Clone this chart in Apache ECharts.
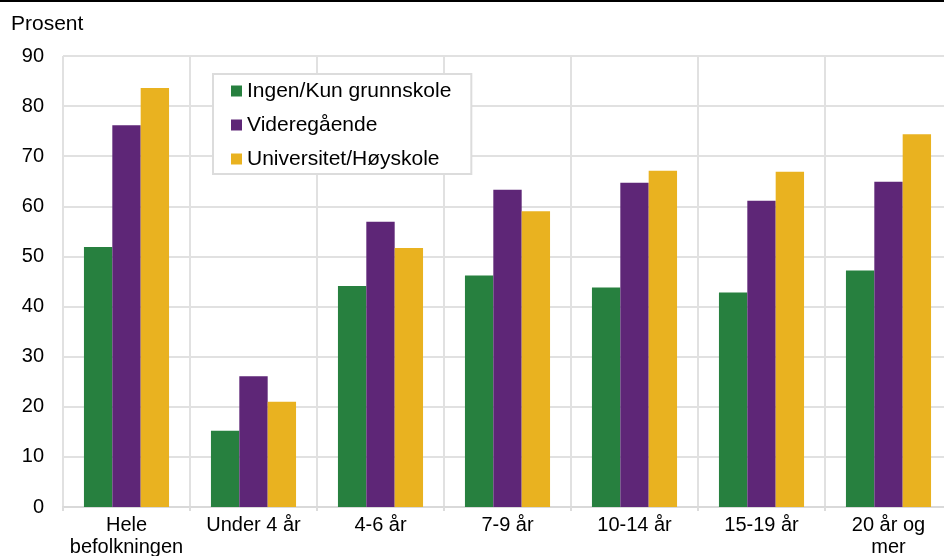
<!DOCTYPE html>
<html><head><meta charset="utf-8">
<script src="https://cdn.jsdelivr.net/npm/echarts@6/dist/echarts.min.js"></script>
<style>html,body{margin:0;padding:0;background:#fff}#c{width:944px;height:556px}</style>
</head><body><div id="c"></div>
<script>
const categories = ['Hele\nbefolkningen', 'Under 4 år', '4-6 år', '7-9 år', '10-14 år', '15-19 år', '20 år og\nmer'];
const seriesNames = ['Ingen/Kun grunnskole', 'Videregående', 'Universitet/Høyskole'];
const ingen = [51.9, 15.2, 44.1, 46.2, 43.8, 42.8, 47.2];
const videregaende = [76.2, 26.1, 56.9, 63.3, 64.7, 61.1, 64.9];
const universitet = [83.6, 21.0, 51.7, 59.0, 67.1, 66.9, 74.4];
const yTicks = [0, 10, 20, 30, 40, 50, 60, 70, 80, 90];
const colors = ['#27803f', '#5e2677', '#e9b220'];
const font = 'Liberation Sans, Arial, sans-serif';

const chart = echarts.init(document.getElementById('c'), null, {renderer: 'canvas'});
const data = [ingen, videregaende, universitet];
chart.setOption({
  animation: false,
  textStyle: {fontFamily: font},
  graphic: [
    {type: 'rect', left: 0, top: 0, shape: {width: 944, height: 2}, style: {fill: '#000'}},
    {type: 'text', left: 11, top: 14, style: {text: 'Prosent', font: '21px ' + font, fill: '#000'}}
  ],
  grid: {left: 63, width: 889, top: 56, bottom: 49, containLabel: false, outerBoundsMode: 'none'},
  legend: {
    orient: 'vertical', left: 213, top: 74,
    data: seriesNames,
    icon: 'rect', itemWidth: 11, itemHeight: 11, itemGap: 12,
    padding: [6, 20, 4, 18],
    borderColor: '#dcdcdc', borderWidth: 2,
    backgroundColor: '#fff',
    textStyle: {fontSize: 21, color: '#000', fontFamily: font, lineHeight: 22, padding: [0, 0, 0, 0]}
  },
  xAxis: {
    type: 'category', data: categories,
    axisLine: {show: true, lineStyle: {color: '#d9d9d9', width: 2}},
    axisTick: {show: true, length: 4, lineStyle: {color: '#dcdcdc', width: 2}},
    splitLine: {show: true, lineStyle: {color: '#e1e1e1', width: 2}},
    axisLabel: {fontSize: 20, color: '#000', fontFamily: font, margin: 7, lineHeight: 22, interval: 0}
  },
  yAxis: {
    type: 'value', min: 0, max: 90, interval: 10,
    axisLine: {show: false}, axisTick: {show: false},
    splitLine: {show: true, lineStyle: {color: '#e1e1e1', width: 2}},
    axisLabel: {fontSize: 20, color: '#000', fontFamily: font, margin: 19,
      formatter: v => yTicks.includes(v) ? String(v) : ''}
  },
  series: seriesNames.map((n, i) => ({
    name: n, type: 'bar', data: data[i],
    barGap: '0%', barCategoryGap: '33%',
    itemStyle: {color: colors[i]}
  }))
});
</script></body></html>
